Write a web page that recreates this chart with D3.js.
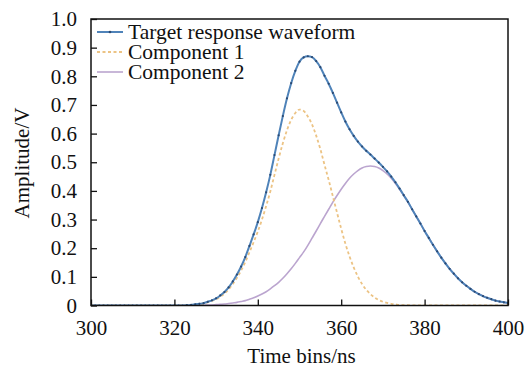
<!DOCTYPE html>
<html>
<head>
<meta charset="utf-8">
<script src="https://cdn.jsdelivr.net/npm/d3@7/dist/d3.min.js"></script>
<style>
  html, body { margin: 0; padding: 0; background: #ffffff; }
  svg { display: block; }
  svg text { font-family: "Liberation Serif", "DejaVu Serif", serif !important; fill: #111; }
</style>
</head>
<body>
<svg id="chart" width="531" height="374"></svg>
<script>
// ---- data ----
const timeBins = [
  300,301,302,303,304,305,306,307,308,309,310,311,312,313,314,315,316,317,318,319,
  320,321,322,323,324,325,326,327,328,329,330,331,332,333,334,335,336,337,338,339,
  340,341,342,343,344,345,346,347,348,349,350,351,352,353,354,355,356,357,358,359,
  360,361,362,363,364,365,366,367,368,369,370,371,372,373,374,375,376,377,378,379,
  380,381,382,383,384,385,386,387,388,389,390,391,392,393,394,395,396,397,398,399,400
];
const targetWaveform = [
  0,0,0,0,0,0,0,0,0,0,0,0,0,0,0,0,0,0,0,0,
  0,0,0,0.001,0.002,0.004,0.006,0.008,0.013,0.018,0.025,0.035,0.047,0.063,0.084,0.108,0.136,0.169,0.208,0.248,
  0.291,0.340,0.395,0.456,0.525,0.594,0.661,0.723,0.776,0.819,0.851,0.866,0.870,0.867,0.853,0.832,0.802,0.774,0.742,0.708,
  0.674,0.642,0.615,0.592,0.572,0.555,0.540,0.527,0.513,0.499,0.484,0.468,0.450,0.430,0.408,0.385,0.362,0.336,0.311,0.286,
  0.260,0.236,0.212,0.189,0.167,0.147,0.128,0.111,0.095,0.081,0.069,0.058,0.048,0.040,0.033,0.027,0.022,0.017,0.014,0.011,0.009
];
const component1 = [
  0,0,0,0,0,0,0,0,0,0,0,0,0,0,0,0,0,0,0,0,
  0,0,0,0.001,0.002,0.003,0.005,0.007,0.011,0.016,0.022,0.031,0.042,0.056,0.075,0.097,0.122,0.152,0.186,0.221,
  0.258,0.300,0.347,0.398,0.456,0.513,0.566,0.612,0.648,0.672,0.684,0.679,0.660,0.632,0.593,0.546,0.491,0.438,0.381,0.324,
  0.268,0.216,0.171,0.133,0.101,0.075,0.055,0.040,0.028,0.019,0.013,0.009,0.006,0.004,0.002,0.001,0.001,0,0,0,
  0,0,0,0,0,0,0,0,0,0,0,0,0,0,0,0,0,0,0,0,0
];
const component2 = [
  0,0,0,0,0,0,0,0,0,0,0,0,0,0,0,0,0,0,0,0,
  0,0,0,0,0,0.001,0.001,0.001,0.002,0.002,0.003,0.004,0.005,0.007,0.009,0.011,0.014,0.017,0.022,0.027,
  0.033,0.040,0.048,0.058,0.069,0.081,0.095,0.111,0.128,0.147,0.167,0.187,0.210,0.235,0.260,0.286,0.311,0.336,0.361,0.384,
  0.406,0.426,0.444,0.459,0.471,0.480,0.485,0.487,0.485,0.480,0.471,0.459,0.444,0.426,0.406,0.384,0.361,0.336,0.311,0.286,
  0.260,0.236,0.212,0.189,0.167,0.147,0.128,0.111,0.095,0.081,0.069,0.058,0.048,0.040,0.033,0.027,0.022,0.017,0.014,0.011,0.009
];
const xTicks = [300, 320, 340, 360, 380, 400];
const yTicks = [0, 0.1, 0.2, 0.3, 0.4, 0.5, 0.6, 0.7, 0.8, 0.9, 1.0];
const yTickLabels = ["0", "0.1", "0.2", "0.3", "0.4", "0.5", "0.6", "0.7", "0.8", "0.9", "1.0"];
const legendLabels = ["Target response waveform", "Component 1", "Component 2"];
const xTitle = "Time bins/ns";
const yTitle = "Amplitude/V";

// ---- layout ----
const plot = { left: 91, right: 508, top: 19, bottom: 305.5 };
const FONT = 21;
const LEGEND_FONT = 21.5;
const SERIF = '"Liberation Serif", "DejaVu Serif", serif';
const colors = { target: "#4f83b9", marker: "#2b4a73", c1: "#ecc384", c2: "#bba5cf" };

const svg = d3.select("#chart");
const x = d3.scaleLinear().domain([300, 400]).range([plot.left, plot.right]);
const y = d3.scaleLinear().domain([0, 1]).range([plot.bottom, plot.top]);

const rows = timeBins.map((t, i) => ({ t, a: targetWaveform[i], c1: component1[i], c2: component2[i] }));

svg.append("clipPath").attr("id", "clip").append("rect")
  .attr("x", plot.left).attr("y", plot.top)
  .attr("width", plot.right - plot.left).attr("height", plot.bottom - plot.top);

const g = svg.append("g").attr("clip-path", "url(#clip)");

const line = key => d3.line().x(d => x(d.t)).y(d => y(d[key])).curve(d3.curveMonotoneX);

g.append("path").datum(rows)
  .attr("fill", "none").attr("stroke", colors.c2).attr("stroke-width", 1.6)
  .attr("d", line("c2"));
g.append("path").datum(rows)
  .attr("fill", "none").attr("stroke", colors.c1).attr("stroke-width", 1.8)
  .attr("stroke-dasharray", "3,2.5")
  .attr("d", line("c1"));
g.append("path").datum(rows)
  .attr("fill", "none").attr("stroke", colors.target).attr("stroke-width", 2)
  .attr("d", line("a"));
g.selectAll("circle.m").data(rows).enter().append("circle")
  .attr("class", "m")
  .attr("cx", d => x(d.t)).attr("cy", d => y(d.a)).attr("r", 1.1)
  .attr("fill", colors.marker);

// ---- axes (inward ticks) ----
const xAxis = d3.axisBottom(x).tickValues(xTicks).tickSizeInner(-6).tickSizeOuter(0).tickPadding(15)
  .tickFormat(d3.format("d"));
const gx = svg.append("g").attr("transform", `translate(0,${plot.bottom})`).call(xAxis)
  .attr("font-family", SERIF).attr("font-size", FONT);
gx.select(".domain").remove();
gx.selectAll(".tick line").attr("stroke", "#111").attr("stroke-width", 1.3);
gx.selectAll(".tick text").attr("fill", "#111");

const yAxis = d3.axisLeft(y).tickValues(yTicks).tickSizeInner(-6).tickSizeOuter(0).tickPadding(14)
  .tickFormat((d, i) => yTickLabels[i]);
const gy = svg.append("g").attr("transform", `translate(${plot.left},0)`).call(yAxis)
  .attr("font-family", SERIF).attr("font-size", FONT);
gy.select(".domain").remove();
gy.selectAll(".tick line").attr("stroke", "#111").attr("stroke-width", 1.3);
gy.selectAll(".tick text").attr("fill", "#111");

// frame
svg.append("rect")
  .attr("x", plot.left).attr("y", plot.top)
  .attr("width", plot.right - plot.left).attr("height", plot.bottom - plot.top)
  .attr("fill", "none").attr("stroke", "#111").attr("stroke-width", 1.5);

// titles
svg.append("text").attr("x", (plot.left + plot.right) / 2 + 2).attr("y", 363)
  .attr("text-anchor", "middle").attr("font-size", FONT).attr("font-family", SERIF).text(xTitle);
svg.append("text").attr("transform", "translate(29,163) rotate(-90)")
  .attr("text-anchor", "middle").attr("font-size", FONT).attr("font-family", SERIF).text(yTitle);

// legend
const leg = svg.append("g");
const legY = [32, 52, 72];
const lx0 = 97, lx1 = 123;
leg.append("line").attr("x1", lx0).attr("x2", lx1).attr("y1", legY[0]).attr("y2", legY[0])
  .attr("stroke", colors.target).attr("stroke-width", 2);
leg.append("circle").attr("cx", (lx0 + lx1) / 2).attr("cy", legY[0]).attr("r", 1.3).attr("fill", colors.marker);
leg.append("line").attr("x1", lx0).attr("x2", lx1).attr("y1", legY[1]).attr("y2", legY[1])
  .attr("stroke", colors.c1).attr("stroke-width", 1.8).attr("stroke-dasharray", "3,2.5");
leg.append("line").attr("x1", lx0).attr("x2", lx1).attr("y1", legY[2]).attr("y2", legY[2])
  .attr("stroke", colors.c2).attr("stroke-width", 1.6);
legendLabels.forEach((t, i) => {
  leg.append("text").attr("x", 128).attr("y", legY[i]).attr("dy", "0.33em")
    .attr("font-size", LEGEND_FONT).attr("font-family", SERIF).text(t);
});
</script>
</body>
</html>
